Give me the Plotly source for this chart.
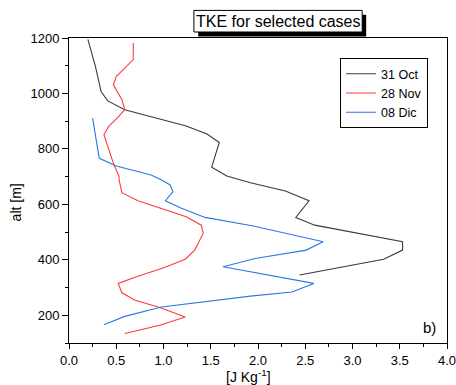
import plotly.graph_objects as go

# 31 Oct
oct_alt = [1195, 1097, 1007, 973, 941, 883, 854, 823, 734, 702, 678, 648, 613, 553, 525, 465, 435, 402, 345]
oct_tke = [0.20, 0.28, 0.34, 0.41, 0.59, 1.24, 1.46, 1.59, 1.51, 1.67, 1.92, 2.29, 2.54, 2.40, 2.60, 3.53, 3.53, 3.33, 2.44]

# 28 Nov
nov_alt = [1182, 1122, 1061, 1031, 977, 943, 915, 881, 851, 748, 700, 688, 642, 613, 555, 525, 495, 435, 402, 372, 341, 315, 281, 254, 228, 194, 164, 134]
nov_tke = [0.68, 0.68, 0.50, 0.47, 0.56, 0.59, 0.52, 0.42, 0.37, 0.47, 0.53, 0.53, 0.56, 0.73, 1.24, 1.40, 1.42, 1.33, 1.23, 1.01, 0.73, 0.52, 0.56, 0.70, 0.96, 1.23, 0.96, 0.59]

# 08 Dic
dic_alt = [911, 832, 766, 738, 706, 688, 670, 646, 613, 586, 553, 522, 465, 435, 405, 375, 357, 315, 284, 269, 230, 196, 166]
dic_tke = [0.25, 0.29, 0.32, 0.50, 0.87, 0.98, 1.07, 1.10, 1.02, 1.19, 1.44, 1.95, 2.69, 2.51, 1.97, 1.63, 1.92, 2.59, 2.36, 1.92, 0.98, 0.59, 0.37]

series_names = ["31 Oct", "28 Nov", "08 Dic"]
colors = ["#3a3a3a", "#ff3a3a", "#2a78e4"]

fig = go.Figure()
for name, xs, ys, c in zip(series_names, [oct_tke, nov_tke, dic_tke], [oct_alt, nov_alt, dic_alt], colors):
    fig.add_trace(go.Scatter(x=xs, y=ys, mode="lines", name=name,
                             line=dict(color=c, width=1.1)))

font_family = "Liberation Sans, Arial, sans-serif"
fig.update_layout(
    width=456, height=385,
    margin=dict(l=69, r=9, t=38, b=42, autoexpand=False),
    paper_bgcolor="white", plot_bgcolor="white",
    font=dict(family=font_family, color="black", size=13),
    showlegend=True,
    legend=dict(x=0.717, y=0.934, xanchor="left", yanchor="top",
                bordercolor="black", borderwidth=1, bgcolor="white",
                font=dict(size=12.5), itemwidth=30, tracegroupgap=0),
    xaxis=dict(range=[0, 4], dtick=0.5, tick0=0, tickformat=".1f",
               ticks="outside", ticklen=5, tickcolor="black",
               minor=dict(dtick=0.25, ticks="outside", ticklen=3, tickcolor="black"),
               showline=True, linecolor="black", linewidth=1, mirror=True,
               showgrid=False, zeroline=False, tickfont=dict(size=13),
               ticklabeloverflow="allow", automargin=False),
    yaxis=dict(range=[100, 1200], dtick=200, tick0=0,
               ticks="outside", ticklen=6, tickcolor="black",
               minor=dict(dtick=100, ticks="outside", ticklen=3, tickcolor="black"),
               showline=True, linecolor="black", linewidth=1, mirror=True,
               showgrid=False, zeroline=False, tickfont=dict(size=13),
               ticklabeloverflow="allow", automargin=False),
    xaxis2=dict(overlaying="x", side="top", anchor="y", range=[0, 4], dtick=0.5, tick0=0,
                ticks="inside", ticklen=4, tickcolor="black",
                minor=dict(dtick=0.25, ticks="inside", ticklen=4, tickcolor="black"),
                showticklabels=False, showline=False, showgrid=False, zeroline=False,
                automargin=False),
    yaxis2=dict(overlaying="y", side="right", anchor="x", range=[100, 1200], dtick=200, tick0=0,
                ticks="inside", ticklen=4, tickcolor="black",
                minor=dict(dtick=100, ticks="inside", ticklen=4, tickcolor="black"),
                showticklabels=False, showline=False, showgrid=False, zeroline=False,
                automargin=False),
)

# title box with shadow
fig.add_shape(type="rect", xref="paper", yref="paper", x0=0.3418, x1=0.7862, y0=1.0052, y1=1.0764,
              fillcolor="black", line=dict(width=0), layer="above")
fig.add_shape(type="rect", xref="paper", yref="paper", x0=0.3304, x1=0.7756, y0=1.0197, y1=1.0905,
              fillcolor="white", line=dict(color="black", width=1), layer="above")
fig.add_annotation(text="TKE for selected cases", xref="paper", yref="paper", x=0.553, y=1.055,
                   xanchor="center", yanchor="middle", showarrow=False, font=dict(size=16))

fig.add_annotation(text="b)", xref="paper", yref="paper", x=0.955, y=0.05,
                   xanchor="center", yanchor="middle", showarrow=False, font=dict(size=15))
fig.add_annotation(text="alt [m]", xref="paper", yref="paper", x=-0.141, y=0.46, textangle=-90,
                   xanchor="center", yanchor="middle", showarrow=False, font=dict(size=14))
fig.add_annotation(text="[J Kg<sup>-1</sup>]", xref="paper", yref="paper", x=0.474, y=-0.108,
                   xanchor="center", yanchor="middle", showarrow=False, font=dict(size=14))

fig.write_html("out.html", config={"displayModeBar": False},
               post_script="document.body.style.margin='0';document.body.style.padding='0';")
